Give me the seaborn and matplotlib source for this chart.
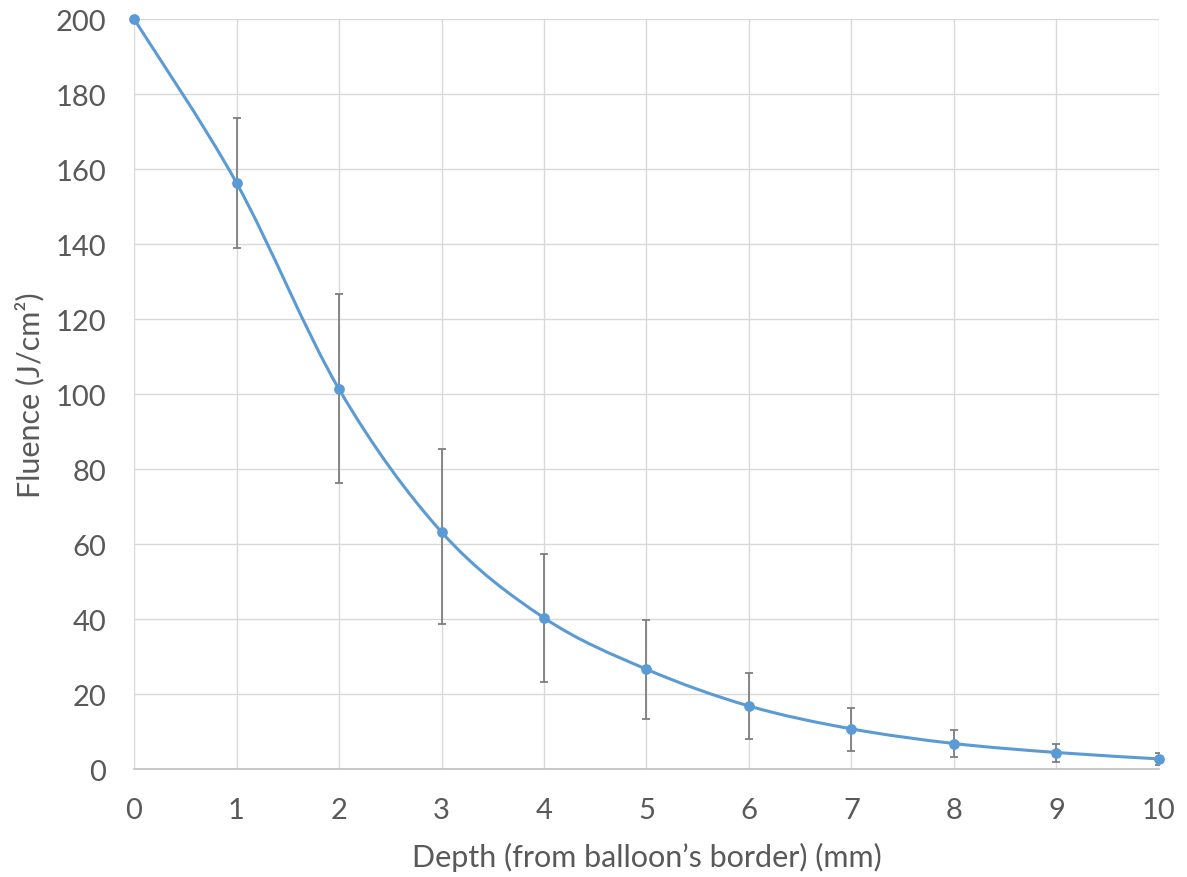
import numpy as np
import pandas as pd
import seaborn as sns
import matplotlib.pyplot as plt
from matplotlib.path import Path
from matplotlib.patches import PathPatch

depth = [0, 1, 2, 3, 4, 5, 6, 7, 8, 9, 10]
fluence = [200, 156.3, 101.3, 63.2, 40.3, 26.6, 16.8, 10.7, 6.8, 4.4, 2.7]
err_up = [0, 17.4, 25.3, 22.2, 17.1, 13.2, 8.9, 5.6, 3.6, 2.3, 1.5]
err_low = [0, 17.4, 25.1, 24.6, 17.2, 13.3, 8.7, 5.8, 3.6, 2.4, 1.6]
y_ticks = list(range(0, 201, 20))
x_ticks = list(range(0, 11))

df = pd.DataFrame({'Depth': depth, 'Fluence': fluence})

sns.set_style('white')
plt.rcParams['font.family'] = ['Lato', 'DejaVu Sans']

blue = '#5B9BD5'
grey_txt = '#595959'
grid_c = '#D9D9D9'

fig = plt.figure(figsize=(11.87, 8.78), dpi=100)
ax = fig.add_axes([0.1129, 0.1230, 0.8635, 0.8542])

# error bars (none at depth 0)
ax.errorbar(df['Depth'][1:], df['Fluence'][1:],
            yerr=[err_low[1:], err_up[1:]], fmt='none',
            ecolor='#7F7F7F', elinewidth=1.3, capsize=3, capthick=1.3, zorder=2)

# smoothed line like Excel (cubic bezier segments through the points)
pts = np.column_stack([df['Depth'], df['Fluence']]).astype(float)
verts = [pts[0]]
codes = [Path.MOVETO]
n = len(pts)
for i in range(n - 1):
    p0 = pts[i - 1] if i > 0 else pts[i]
    p1 = pts[i]
    p2 = pts[i + 1]
    p3 = pts[i + 2] if i + 2 < n else pts[i + 1]
    c1 = p1 + (p2 - p0) / 6
    c2 = p2 - (p3 - p1) / 6
    verts += [c1, c2, p2]
    codes += [Path.CURVE4] * 3
ax.add_patch(PathPatch(Path(verts, codes), fill=False, edgecolor=blue,
                       lw=2.2, zorder=3, capstyle='round'))

sns.scatterplot(data=df, x='Depth', y='Fluence', ax=ax, color=blue,
                s=60, edgecolor=blue, linewidth=0, zorder=4, clip_on=False)

ax.set_xlim(0, 10)
ax.set_ylim(0, 200)
ax.set_xticks(x_ticks)
ax.set_yticks(y_ticks)
ax.grid(True, color=grid_c, lw=1)
ax.set_axisbelow(True)
for s in ['top', 'right', 'left']:
    ax.spines[s].set_visible(False)
ax.spines['bottom'].set_color('#BFBFBF')
ax.spines['bottom'].set_linewidth(1.2)
ax.tick_params(axis='both', length=0, labelsize=21, labelcolor=grey_txt)
ax.tick_params(axis='x', pad=20)
ax.tick_params(axis='y', pad=20)

ax.set_xlabel('Depth (from balloon\u2019s border) (mm)', fontsize=22,
              color=grey_txt, labelpad=14)
ax.set_ylabel('Fluence (J/cm\u00b2)', fontsize=22, color=grey_txt, labelpad=8)

plt.savefig('out.png', dpi=100)
